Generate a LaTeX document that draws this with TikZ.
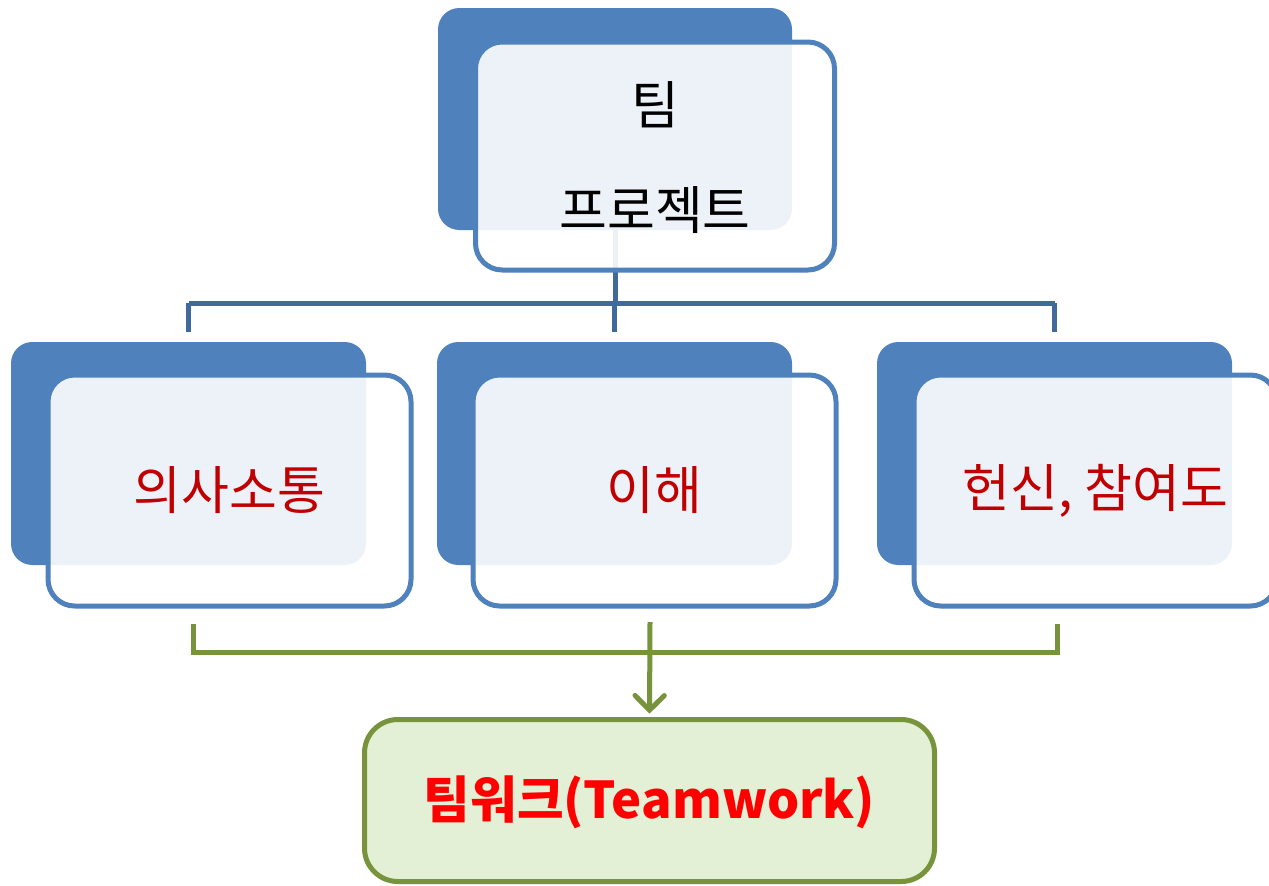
\documentclass[tikz,border=0pt]{standalone}
\usepackage{fontspec}
\setmainfont{Noto Sans CJK KR}
\usetikzlibrary{arrows.meta}
\definecolor{boxblue}{HTML}{4F81BD}
\definecolor{linkblue}{HTML}{41699B}
\definecolor{olive}{HTML}{77933C}
\definecolor{palegreen}{HTML}{E3F0D5}
\definecolor{darkred}{HTML}{C00000}
\definecolor{brightred}{HTML}{FF0000}
\tikzset{
  darkbox/.style={fill=boxblue, rounded corners=16pt, inner sep=0pt},
  lightbox/.style={fill=white, fill opacity=0.9, draw=boxblue, line width=3.75pt, rounded corners=20pt, inner sep=0pt},
  boxtext/.style={inner sep=0pt, font=\fontsize{39}{44}\selectfont},
  linkline/.style={draw=linkblue, line width=3.75pt},
  greenline/.style={draw=olive, line width=3.75pt},
}
\begin{document}
\begin{tikzpicture}[x=0.75pt, y=-0.75pt]
\useasboundingbox (0,0) rectangle (1269,885);
% top
\node[darkbox, minimum width=265.5pt, minimum height=166.5pt] (topDark) at (615,119) {};
\coordinate (bus) at (615,303);
\draw[linkline] (topDark.south) -- (bus);
\node[lightbox, minimum width=269.25pt, minimum height=171pt] (topLight) at (655,156) {};
\node[boxtext] (t1) at (655,105) {팀};
\node[boxtext] (t2) at (655,210) {프로젝트};
% middle dark
\node[darkbox, minimum width=266.25pt, minimum height=167.25pt] (darkL) at (188.5,453.5) {};
\node[darkbox, minimum width=266.25pt, minimum height=167.25pt] (darkC) at (614.5,453.5) {};
\node[darkbox, minimum width=266.25pt, minimum height=167.25pt] (darkR) at (1054.5,453.5) {};
\node[lightbox, minimum width=272.25pt, minimum height=173.25pt] (lightL) at (229.5,490.5) {};
\node[lightbox, minimum width=272.25pt, minimum height=173.25pt] (lightC) at (654.5,490.5) {};
\node[lightbox, minimum width=272.25pt, minimum height=173.25pt] (lightR) at (1095.5,490.5) {};
\node[boxtext, text=darkred] (m1) at (lightL) {의사소통};
\node[boxtext, text=darkred] (m2) at (lightC) {이해};
\node[boxtext, text=darkred] (m3) at (lightR) {헌신, 참여도};
% blue bus
\draw[linkline] (bus -| darkL.north) -- (bus -| darkR.north);
\draw[linkline] (bus -| darkL.north) -- ([yshift=7.5pt]darkL.north);
\draw[linkline] (bus -| darkC.north) -- ([yshift=7.5pt]darkC.north);
\draw[linkline] (bus -| darkR.north) -- ([yshift=7.5pt]darkR.north);
% bottom
\node[fill=palegreen, draw=olive, line width=3.75pt, rounded corners=25pt, minimum width=427.5pt, minimum height=121.5pt, inner sep=0pt] (team) at (649.5,800.5) {};
\node[inner sep=0pt, text=brightred, font=\fontsize{38}{42}\selectfont\bfseries] (tw) at ([yshift=-1.5pt]team.center) {팀워크(Teamwork)};
% green bracket
\coordinate (gL) at (193,624);
\coordinate (gR) at (1057,624);
\coordinate (gC) at (650,622);
\coordinate (gbus) at (650,652);
\draw[greenline] (gL) -- (gL |- gbus) -- (gR |- gbus) -- (gR);
\draw[greenline, -{Straight Barb[length=11pt, width=22pt, line cap=round]}, shorten >=2.5pt] (gC) -- (team.north);
\end{tikzpicture}
\end{document}
